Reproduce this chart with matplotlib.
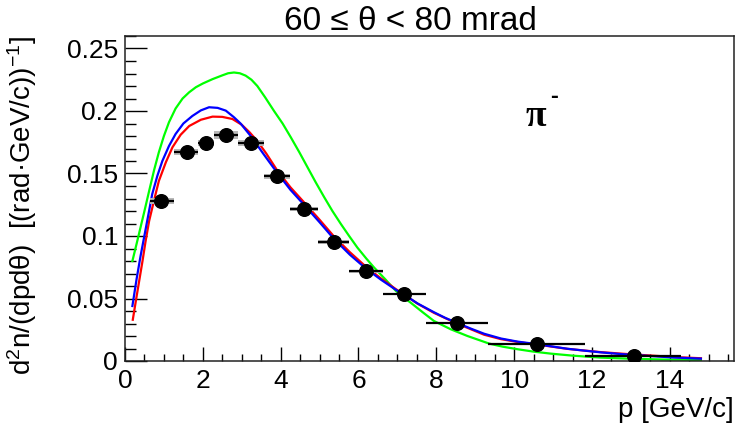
import numpy as np
import matplotlib
matplotlib.use("Agg")
import matplotlib.pyplot as plt
from matplotlib.ticker import MultipleLocator, FuncFormatter

plt.rcParams['font.family'] = ['Liberation Sans', 'DejaVu Sans']
plt.rcParams['mathtext.fontset'] = 'custom'
plt.rcParams['mathtext.rm'] = 'Liberation Sans'
plt.rcParams['mathtext.it'] = 'Liberation Sans:italic'
plt.rcParams['mathtext.bf'] = 'Liberation Sans:bold'

# ---- data points ----
p_data = [0.92, 1.59, 2.08, 2.59, 3.23, 3.90, 4.59, 5.36, 6.19, 7.17, 8.53, 10.58, 13.09]
y_data = [0.128, 0.1675, 0.1747, 0.181, 0.1747, 0.148, 0.1215, 0.0953, 0.0719, 0.0537, 0.0302, 0.0134, 0.0040]
p_lo = [0.64, 1.25, 1.87, 2.28, 2.90, 3.57, 4.25, 4.96, 5.76, 6.64, 7.73, 9.32, 11.82]
p_hi = [1.25, 1.87, 2.28, 2.90, 3.57, 4.25, 4.96, 5.76, 6.64, 7.73, 9.32, 11.82, 14.30]
y_sys = [0.0025, 0.0025, 0.0025, 0.003, 0.0025, 0.002, 0.0018, 0.0015, 0.0012, 0.001, 0.0006, 0.0004, 0.0002]

# ---- model curves ----
green_x = [0.19, 0.30, 0.40, 0.50, 0.62, 0.75, 0.87, 1.00, 1.13, 1.30, 1.48, 1.65, 1.82, 2.00,
           2.25, 2.50, 2.65, 2.80, 2.95, 3.10, 3.25, 3.40, 3.60, 3.83, 4.05, 4.26, 4.48, 4.69,
           4.90, 5.12, 5.33, 5.55, 5.76, 5.97, 6.20, 6.40, 6.70, 6.96, 7.15, 7.34, 7.65, 7.94,
           8.37, 8.80, 9.36, 9.70, 10.09, 10.50, 10.94, 11.50, 12.23, 13.00, 13.80, 14.80]
green_y = [0.080, 0.094, 0.107, 0.120, 0.136, 0.153, 0.167, 0.180, 0.191, 0.202, 0.210, 0.215,
           0.219, 0.222, 0.2255, 0.2285, 0.2302, 0.2308, 0.2302, 0.2283, 0.2250, 0.2200, 0.211,
           0.200, 0.190, 0.179, 0.167, 0.155, 0.143, 0.131, 0.120, 0.1095, 0.100, 0.0908,
           0.082, 0.0748, 0.065, 0.0561, 0.051, 0.0467, 0.039, 0.032, 0.0254, 0.020, 0.0139,
           0.0115, 0.0094, 0.0075, 0.0059, 0.0043, 0.0027, 0.0018, 0.0012, 0.0008]

blue_x = [0.19, 0.30, 0.40, 0.49, 0.60, 0.70, 0.83, 0.96, 1.13, 1.30, 1.50, 1.73, 1.95, 2.16,
          2.38, 2.59, 2.80, 2.97, 3.23, 3.55, 3.90, 4.25, 4.60, 5.00, 5.36, 5.78, 6.19, 6.58,
          6.96, 7.25, 7.52, 7.94, 8.23, 8.53, 8.88, 9.23, 9.66, 10.09, 10.56, 11.00, 11.37,
          11.80, 12.23, 12.80, 13.50, 14.10, 14.80]
blue_y = [0.044, 0.066, 0.084, 0.0988, 0.117, 0.1336, 0.148, 0.160, 0.172, 0.1816, 0.190,
          0.196, 0.2005, 0.203, 0.2025, 0.2003, 0.195, 0.190, 0.180, 0.166, 0.151, 0.137,
          0.125, 0.111, 0.098, 0.085, 0.074, 0.065, 0.057, 0.0515, 0.046, 0.039, 0.0345,
          0.0305, 0.026, 0.0218, 0.0180, 0.0155, 0.0136, 0.0115, 0.0098, 0.0083, 0.0069,
          0.0054, 0.0040, 0.0028, 0.0019]

red_x = [0.20, 0.30, 0.45, 0.53, 0.62, 0.75, 0.87, 1.05, 1.22, 1.43, 1.65, 1.95, 2.25, 2.50,
         2.76, 3.00, 3.20, 3.40, 3.63, 3.90, 4.25, 4.60, 5.00, 5.36, 5.78, 6.19, 6.58, 6.96,
         7.52, 7.94, 8.53, 8.88, 9.23, 9.66, 10.09, 10.56, 11.37, 12.23, 12.80, 13.50, 14.10,
         14.80]
red_y = [0.033, 0.052, 0.080, 0.096, 0.112, 0.129, 0.144, 0.159, 0.171, 0.181, 0.188, 0.193,
         0.1955, 0.1953, 0.1936, 0.189, 0.183, 0.176, 0.166, 0.153, 0.139, 0.127, 0.113,
         0.100, 0.087, 0.0755, 0.066, 0.0575, 0.0458, 0.0385, 0.030, 0.0255, 0.021, 0.0175,
         0.0152, 0.0133, 0.0097, 0.0071, 0.0058, 0.0044, 0.0032, 0.0022]

fig = plt.figure(figsize=(7.38, 4.30), dpi=100)
ax = fig.add_axes([125/738, 1-361/430, 609/738, 325/430])

ax.plot(green_x, green_y, color='#00ff00', lw=1.6, zorder=2, solid_joinstyle='round')
ax.plot(red_x, red_y, color='#ff0000', lw=1.6, zorder=2.5, solid_joinstyle='round')
ax.plot(blue_x, blue_y, color='#0000ff', lw=1.6, zorder=3, solid_joinstyle='round')

pd_ = np.array(p_data); lo = np.array(p_lo); hi = np.array(p_hi)
yd = np.array(y_data); ys = np.array(y_sys)
ax.bar((lo+hi)/2, 2*ys, bottom=yd-ys, width=hi-lo, color='#b8b8b8', zorder=4)
ax.errorbar(pd_, yd, xerr=[pd_-lo, hi-pd_], fmt='o', color='black', ms=9.8,
            elinewidth=1.6, capsize=0, zorder=5)

ax.set_xlim(0, 15.65)
ax.set_ylim(0, 0.26)
ax.xaxis.set_major_locator(MultipleLocator(2))
ax.xaxis.set_minor_locator(MultipleLocator(0.5))
ax.yaxis.set_major_locator(MultipleLocator(0.05))
ax.yaxis.set_minor_locator(MultipleLocator(0.01))
ax.yaxis.set_major_formatter(FuncFormatter(lambda v, pos: ('%g' % round(v, 3))))
ax.tick_params(which='both', direction='in', top=False, right=False, labelsize=19)
ax.tick_params(axis='x', which='major', length=10, width=1, pad=6)
ax.tick_params(axis='x', which='minor', length=5, width=1)
ax.tick_params(axis='y', which='major', length=16, width=1, pad=5)
ax.tick_params(axis='y', which='minor', length=8, width=1)
for s in ax.spines.values():
    s.set_linewidth(1.1)
    s.set_color('#222222')

fig.text(410/738, 1-21/430, '60 ≤ θ < 80 mrad', ha='center', va='center', fontsize=24)
fig.text(734/738, 1-410/430, 'p [GeV/c]', ha='right', va='center', fontsize=20)
fig.text(22/738, 1-36/430, r'd$^{2}$n/(dpdθ)  [(rad·GeV/c))$^{-1}$]', rotation=90,
         ha='center', va='top', fontsize=20)
fig.text(536/738, 1-117/430, 'π', fontsize=27, ha='center', va='center', fontweight='bold',
         family=['Liberation Serif', 'DejaVu Serif'])
fig.text(554/738, 1-97/430, '-', fontsize=17, ha='center', va='center', fontweight='bold')

fig.savefig('out.png', dpi=100)
